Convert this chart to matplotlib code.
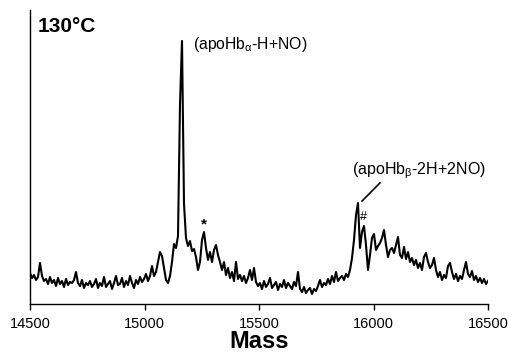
import numpy as np
import matplotlib
matplotlib.use("Agg")
import matplotlib.pyplot as plt

plt.rcParams['font.family'] = ['Liberation Sans', 'DejaVu Sans']
plt.rcParams['mathtext.fontset'] = 'custom'
plt.rcParams['mathtext.rm'] = 'Liberation Sans'
plt.rcParams['mathtext.it'] = 'Liberation Sans'

# Intensity readings (arbitrary units), evenly sampled from 14500 to 16500 Da
intensity = [
    31, 26, 29, 24, 27, 41, 28, 23,
    25, 20, 27, 21, 24, 18, 26, 20, 23, 17, 25, 19, 22, 21, 24, 32,
    21, 18, 24, 16, 21, 19, 23, 17, 20, 25, 16, 21, 18, 27, 17, 20, 23, 15, 21, 28, 19,
    20, 26, 17, 23, 19, 28, 21, 16, 24, 20, 27, 22, 25, 30, 23, 28,
    38, 28, 32, 42, 52,
    48, 36, 24, 21, 28, 42, 60, 56, 68,
    200, 263, 100,
    66, 58, 63, 53, 55, 47, 34, 42,
    64, 72, 56, 44, 52, 42, 54, 59,
    49, 42, 34, 42, 29, 36, 26, 32, 23, 42, 25, 29,
    23, 28, 21, 26, 34, 24, 36, 22,
    18, 21, 15, 23, 17, 20, 26, 16, 19, 22, 14, 20, 17, 24, 16, 21, 18, 15, 22, 18,
    32,
    15, 12, 17, 11, 14, 16, 10, 15, 13,
    18, 24, 17, 21, 19, 25, 20, 28, 22, 32, 23, 26, 28, 24, 30, 27, 34,
    46, 64, 89, 101,
    56, 72, 78, 59, 34, 49, 66, 70, 54, 58, 61, 66, 74, 59, 47, 54, 56, 51,
    59, 67, 49, 46, 57, 45, 52, 42, 46, 39, 44, 36, 41, 34, 47, 51, 42, 36,
    39, 46, 34, 27, 32, 24, 29, 26, 38, 41, 32, 25, 30, 23, 28, 25, 34, 42, 30, 27,
    33, 24, 28, 22, 26, 21, 25, 20, 23,
]
mass_start, mass_end = 14500, 16500
mass = np.linspace(mass_start, mass_end, len(intensity))

xticks = [14500, 15000, 15500, 16000, 16500]
title_text = "130°C"
label_alpha = "(apoHb$_{\\alpha}$-H+NO)"
label_beta = "(apoHb$_{\\beta}$-2H+2NO)"

fig = plt.figure(figsize=(5.08, 3.54), dpi=100)
ax = fig.add_axes([30/508, 50/354, 458/508, 294/354])
ax.plot(mass, intensity, color='black', lw=1.5)
ax.set_xlim(mass_start, mass_end)
ax.set_ylim(0, 294)
ax.set_xticks(xticks)
ax.set_xticklabels([str(t) for t in xticks], fontsize=10.5)
ax.set_yticks([])
ax.tick_params(axis='x', direction='out', length=4, width=1, pad=5)
for s in ['top', 'right']:
    ax.spines[s].set_visible(False)
ax.spines['left'].set_linewidth(1)
ax.spines['bottom'].set_linewidth(1)
ax.set_xlabel("Mass", fontsize=17, fontweight='bold', labelpad=0)

ax.text(0.016, 0.945, title_text, transform=ax.transAxes, fontsize=15,
        fontweight='bold', va='center', ha='left')
ax.text(15212, 259, label_alpha, fontsize=11.3, va='center', ha='left')
ax.text(15906, 133, label_beta, fontsize=11.5, va='center', ha='left')
ax.plot([15950, 16028], [103, 121], color='black', lw=1.2)
ax.text(15260, 80, "*", fontsize=11, ha='center', va='center', fontweight='bold')
ax.text(15958, 87, "#", fontsize=9, ha='center', va='center')

fig.savefig("out.png", dpi=100)
